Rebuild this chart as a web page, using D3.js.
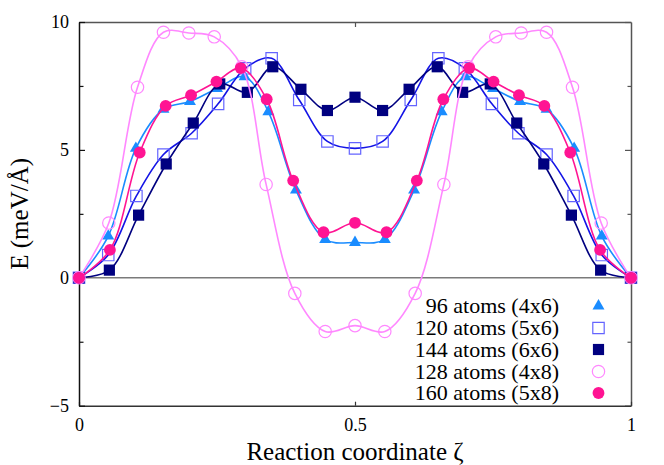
<!DOCTYPE html>
<html>
<head>
<meta charset="utf-8">
<script src="https://cdn.jsdelivr.net/npm/d3@7"></script>
<style>
  body { margin: 0; font-family: "Liberation Serif"; }
  svg { font-family: "Liberation Serif"; }
  svg text { font-family: "Liberation Serif"; }
</style>
</head>
<body>
<script>
// series: 96 atoms (4x6)
const x96 = [0, 0.053, 0.103, 0.153, 0.201, 0.250, 0.300, 0.343, 0.393, 0.446, 0.5, 0.554, 0.607, 0.657, 0.700, 0.750, 0.799, 0.847, 0.897, 0.947, 1];
const e96 = [0, 1.63, 5.06, 6.59, 6.89, 7.40, 7.86, 6.49, 3.43, 1.50, 1.38, 1.50, 3.43, 6.49, 7.86, 7.40, 6.89, 6.59, 5.06, 1.63, 0];
// 120 atoms (5x6)
const x120 = [0, 0.053, 0.104, 0.153, 0.204, 0.252, 0.301, 0.349, 0.399, 0.450, 0.5, 0.550, 0.601, 0.651, 0.699, 0.748, 0.796, 0.847, 0.896, 0.947, 1];
const e120 = [0, 0.89, 3.20, 4.82, 5.65, 6.80, 8.19, 8.58, 6.95, 5.33, 5.06, 5.33, 6.95, 8.58, 8.19, 6.80, 5.65, 4.82, 3.20, 0.89, 0];
// 144 atoms (6x6)
const x144 = [0, 0.055, 0.108, 0.158, 0.207, 0.255, 0.305, 0.351, 0.402, 0.450, 0.5, 0.550, 0.598, 0.649, 0.695, 0.745, 0.793, 0.842, 0.892, 0.945, 1];
const e144 = [0, 0.30, 2.45, 4.45, 6.05, 7.58, 7.25, 8.25, 7.37, 6.54, 7.06, 6.54, 7.37, 8.25, 7.25, 7.58, 6.05, 4.45, 2.45, 0.30, 0];
// 128 atoms (4x8)
const x128 = [0, 0.054, 0.106, 0.153, 0.199, 0.245, 0.295, 0.339, 0.391, 0.446, 0.5, 0.554, 0.609, 0.661, 0.705, 0.755, 0.801, 0.847, 0.894, 0.946, 1];
const e128 = [0, 2.14, 7.45, 9.60, 9.57, 9.42, 8.25, 3.65, -0.61, -2.10, -1.87, -2.10, -0.61, 3.65, 8.25, 9.42, 9.57, 9.60, 7.45, 2.14, 0];
// 160 atoms (5x8)
const x160 = [0, 0.056, 0.110, 0.157, 0.203, 0.249, 0.293, 0.340, 0.388, 0.443, 0.5, 0.557, 0.612, 0.660, 0.707, 0.751, 0.797, 0.843, 0.890, 0.944, 1];
const e160 = [0, 1.09, 4.90, 6.72, 7.14, 7.67, 8.20, 6.98, 3.80, 1.78, 2.15, 1.78, 3.80, 6.98, 8.20, 7.67, 7.14, 6.72, 4.90, 1.09, 0];

const labels = ["96 atoms (4x6)", "120 atoms (5x6)", "144 atoms (6x6)", "128 atoms (4x8)", "160 atoms (5x8)"];
const yMajor = [-5, 0, 5, 10];
const yMinor = [-2.5, 2.5, 7.5];
const xMajor = [0, 0.5, 1];

const FAMILY = "Liberation Serif";

const series = [
  {name: labels[0], xs: x96, es: e96, shape: d3.symbolTriangle, size: 62, color: "#1a8cff", fill: true},
  {name: labels[1], xs: x120, es: e120, shape: d3.symbolSquare, size: 130, color: "#6464ff", line: "#1414e6", fill: false},
  {name: labels[2], xs: x144, es: e144, shape: d3.symbolSquare, size: 125, color: "#000080", fill: true},
  {name: labels[3], xs: x128, es: e128, shape: d3.symbolCircle, size: 120, color: "#ff88ff", fill: false},
  {name: labels[4], xs: x160, es: e160, shape: d3.symbolCircle, size: 110, color: "#ff1493", fill: true}
];

const svg = d3.select("body").append("svg")
  .attr("width", 664).attr("height", 465)
  .attr("font-family", FAMILY)
  .style("display", "block");

const x = d3.scaleLinear().domain([0, 1]).range([79, 631]);
const y = d3.scaleLinear().domain([-5, 10]).range([405.7, 22]);

function label(sel, size) {
  return sel
    .attr("font-family", FAMILY)
    .style("font-family", `"${FAMILY}"`)
    .style("font-size", size + "px")
    .attr("fill", "#000");
}

// zero line
svg.append("line")
  .attr("x1", x(0)).attr("x2", x(1)).attr("y1", y(0)).attr("y2", y(0))
  .attr("stroke", "#7a7a7a").attr("stroke-width", 1.5);

// frame: top + right grey, left + bottom dark
function styleAxis(g, col) {
  g.attr("font-family", FAMILY).attr("font-size", null);
  g.select(".domain").attr("stroke", col).attr("stroke-width", 1.5);
  g.selectAll(".tick line").attr("stroke", col).attr("stroke-width", 1.2);
  label(g.selectAll("text"), 18);
}

const gTop = svg.append("g").attr("transform", `translate(0,${y(10)})`)
  .call(d3.axisTop(x).tickValues([0.5]).tickSize(-5).tickSizeOuter(0).tickFormat(""));
styleAxis(gTop, "#555");
const gRight = svg.append("g").attr("transform", `translate(${x(1)},0)`)
  .call(d3.axisRight(y).tickValues(yMajor).tickSize(-6).tickSizeOuter(0).tickFormat(""));
styleAxis(gRight, "#555");
const gRightMinor = svg.append("g").attr("transform", `translate(${x(1)},0)`)
  .call(d3.axisRight(y).tickValues(yMinor).tickSize(-3.5).tickFormat(""));
gRightMinor.select(".domain").remove();
styleAxis(gRightMinor, "#555");

const gBottom = svg.append("g").attr("transform", `translate(0,${y(-5)})`)
  .call(d3.axisBottom(x).tickValues(xMajor).tickSize(-4).tickSizeOuter(0).tickPadding(13).tickFormat(d3.format("")));
styleAxis(gBottom, "#333");
const gLeft = svg.append("g").attr("transform", `translate(${x(0)},0)`)
  .call(d3.axisLeft(y).tickValues(yMajor).tickSize(-6).tickSizeOuter(0).tickPadding(10));
styleAxis(gLeft, "#111");
const gLeftMinor = svg.append("g").attr("transform", `translate(${x(0)},0)`)
  .call(d3.axisLeft(y).tickValues(yMinor).tickSize(-4.5).tickFormat(""));
gLeftMinor.select(".domain").remove();
styleAxis(gLeftMinor, "#111");

// axis titles
svg.append("text")
  .attr("x", (x(0) + x(1)) / 2).attr("y", 460)
  .attr("text-anchor", "middle")
  .call(label, 25)
  .text("Reaction coordinate ζ");
svg.append("text")
  .attr("transform", `translate(28,${(y(10) + y(-5)) / 2}) rotate(-90)`)
  .attr("text-anchor", "middle")
  .call(label, 25)
  .text("E (meV/Å)");

// curves and markers
const line = d3.line()
  .x(d => x(d[0])).y(d => y(d[1]))
  .curve(d3.curveCatmullRom.alpha(0.5));

const plot = svg.append("g");
series.forEach(s => {
  const pts = s.xs.map((v, i) => [v, s.es[i]]);
  plot.append("path")
    .attr("d", line(pts))
    .attr("fill", "none")
    .attr("stroke", s.line || s.color)
    .attr("stroke-width", 1.6);
  plot.selectAll(null).data(pts).enter().append("path")
    .attr("transform", d => `translate(${x(d[0])},${y(d[1])})`)
    .attr("d", d3.symbol(s.shape, s.size))
    .attr("fill", s.fill ? s.color : "none")
    .attr("stroke", s.fill ? "none" : s.color)
    .attr("stroke-width", 1.2);
});

// legend
const legendY = [306, 328, 349.5, 371.5, 393];
const leg = svg.append("g");
leg.selectAll("text").data(series).enter().append("text")
  .attr("x", 559).attr("y", (d, i) => legendY[i] + 7)
  .attr("text-anchor", "end")
  .call(label, 22)
  .text(d => d.name);
leg.selectAll("path").data(series).enter().append("path")
  .attr("transform", (d, i) => `translate(598.5,${legendY[i]})`)
  .attr("d", d => d3.symbol(d.shape, d.size)())
  .attr("fill", d => d.fill ? d.color : "none")
  .attr("stroke", d => d.fill ? "none" : d.color)
  .attr("stroke-width", 1.2);
</script>
</body>
</html>
